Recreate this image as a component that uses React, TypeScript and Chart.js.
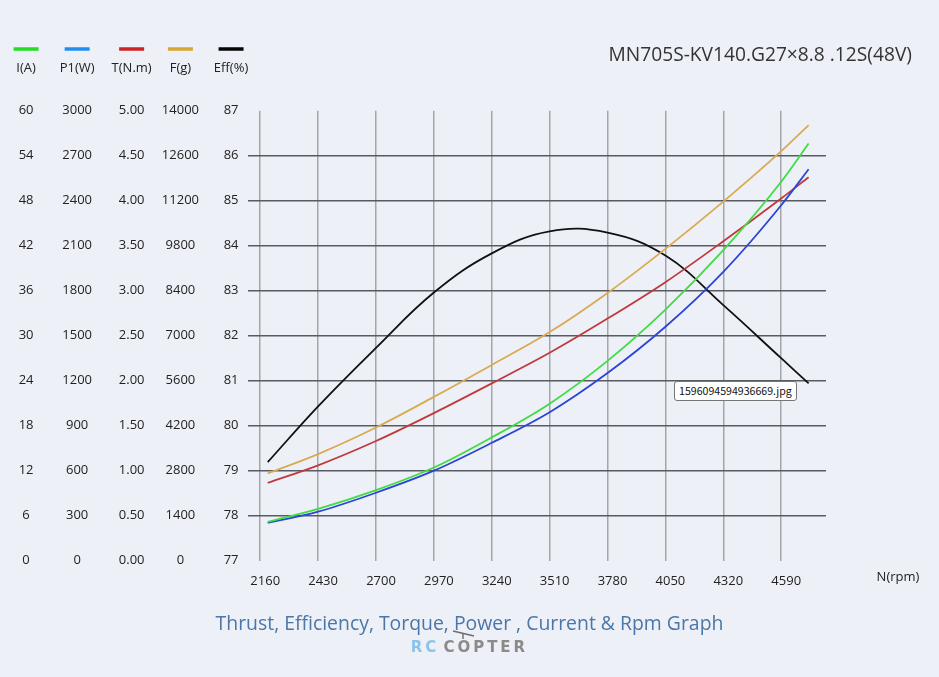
import React, { useEffect, useRef } from "react";
import { Chart, registerables } from "chart.js";

Chart.register(...registerables);

// ---- data ----
const rpm = [2195, 2430, 2700, 2970, 3240, 3510, 3780, 4050, 4320, 4590, 4718];
const currentA = [5.17, 6.9, 9.4, 12.42, 16.44, 20.94, 26.64, 33.48, 41.4, 50.52, 55.62];
const powerW = [252, 327, 453, 600, 786, 990, 1251, 1560, 1926, 2370, 2610];
const torqueNm = [0.865, 1.06, 1.33, 1.64, 1.97, 2.31, 2.69, 3.095, 3.55, 4.025, 4.26];
const thrustG = [2716, 3318, 4144, 5096, 6090, 7112, 8330, 9702, 11172, 12740, 13552];
const effPct = [79.19, 80.43, 81.73, 82.96, 83.83, 84.32, 84.29, 83.78, 82.68, 81.5, 80.94];
const rpmTicks = [2160, 2430, 2700, 2970, 3240, 3510, 3780, 4050, 4320, 4590];

const seriesNames = ["I(A)", "P1(W)", "T(N.m)", "F(g)", "Eff(%)"];
const axisIds = ["yI", "yP", "yT", "yF", "yE"];
const axisMin = [0, 0, 0, 0, 77];
const axisMax = [60, 3000, 5, 14000, 87];
const axisStep = [6, 300, 0.5, 1400, 1];
const axisDecimals = [0, 0, 2, 0, 0];
const seriesValues = [currentA, powerW, torqueNm, thrustG, effPct];
const lineColors = ["#3fdc42", "#2b45d6", "#c03a3c", "#d8ab52", "#111111"];
const legendColors = ["#22dd22", "#1e8ff0", "#cc2222", "#d8a632", "#050505"];

const chartTitle = "MN705S-KV140.G27×8.8 .12S(48V)";
const xTitle = "N(rpm)";
const footerTitle = "Thrust, Efficiency, Torque, Power , Current & Rpm Graph";

const TICK_FONT = '"Open Sans", "DejaVu Sans", sans-serif';
const TEXT_COLOR = "#222222";

// layout (pixels)
const axisWidths = [52, 52, 52, 50, 42];
const axisPadding = [18.5, 12, 11.5, 7, 9.5];

const fmt = (v: number, d: number) => (d > 0 ? v.toFixed(d) : String(Math.round(v)));

const overlayPlugin = {
  id: "overlay",
  afterDraw(chart: any) {
    const ctx = chart.ctx as CanvasRenderingContext2D;
    ctx.save();
    // legend entries above each y axis
    axisIds.forEach((id, i) => {
      const s = chart.scales[id];
      ctx.font = `13px ${TICK_FONT}`;
      const widest = ctx.measureText(fmt(axisMax[i], axisDecimals[i])).width;
      const cx = s.right - s.options.ticks.padding - widest / 2;
      ctx.strokeStyle = legendColors[i];
      ctx.lineWidth = 3.5;
      ctx.beginPath();
      ctx.moveTo(cx - 12.5, 49);
      ctx.lineTo(cx + 12.5, 49);
      ctx.stroke();
      ctx.fillStyle = TEXT_COLOR;
      ctx.textAlign = "center";
      ctx.textBaseline = "middle";
      ctx.font = `13px ${TICK_FONT}`;
      ctx.fillText(seriesNames[i], cx, 68);
    });
    // chart title (top right)
    ctx.font = `19.2px ${TICK_FONT}`;
    ctx.fillStyle = "#333333";
    ctx.textAlign = "right";
    ctx.textBaseline = "middle";
    ctx.fillText(chartTitle, 912, 56);
    // x axis title, right of the axis
    const xs = chart.scales.x;
    ctx.font = `13px ${TICK_FONT}`;
    ctx.fillStyle = TEXT_COLOR;
    ctx.textAlign = "center";
    ctx.fillText(xTitle, xs.right + 72, 577);
    ctx.restore();
  },
};

export default function App() {
  const ref = useRef<HTMLCanvasElement | null>(null);

  useEffect(() => {
    if (!ref.current) return;
    const yScales: any = {};
    axisIds.forEach((id, i) => {
      const isEff = id === "yE";
      yScales[id] = {
        type: "linear",
        position: "left",
        weight: 50 - i * 10,
        min: axisMin[i],
        max: axisMax[i],
        afterBuildTicks: (s: any) => {
          const t: any[] = [];
          for (let k = 0; k <= 10; k++) t.push({ value: axisMin[i] + axisStep[i] * k });
          s.ticks = t;
        },
        afterFit: (s: any) => {
          s.width = axisWidths[i];
        },
        ticks: {
          crossAlign: "center",
          padding: axisPadding[i],
          color: TEXT_COLOR,
          font: { family: TICK_FONT, size: 13 },
          callback: (v: any) => fmt(Number(v), axisDecimals[i]),
        },
        grid: isEff
          ? {
              display: true,
              drawTicks: false,
              lineWidth: 1.5,
              color: (c: any) =>
                c.tick && (c.tick.value === 77 || c.tick.value === 87) ? "rgba(0,0,0,0)" : "#585c62",
            }
          : { display: false, drawTicks: false },
        border: { display: false },
      };
    });

    const chart = new Chart(ref.current, {
      type: "line",
      data: {
        datasets: seriesValues.map((vals, i) => ({
          label: seriesNames[i],
          yAxisID: axisIds[i],
          data: rpm.map((r, k) => ({ x: r, y: vals[k] })),
          borderColor: lineColors[i],
          borderWidth: 1.8,
          pointRadius: 0,
          fill: false,
          cubicInterpolationMode: axisIds[i] === "yE" ? "default" : "monotone",
          tension: 0.4,
        })),
      },
      options: {
        animation: false,
        responsive: false,
        events: [],
        layout: { padding: { left: 0, right: 113, top: 110.7, bottom: 0 } },
        plugins: {
          legend: { display: false },
          tooltip: { enabled: false },
          title: { display: false },
        },
        scales: {
          x: {
            type: "linear",
            min: 2103,
            max: 4799,
            afterBuildTicks: (s: any) => {
              s.ticks = rpmTicks.map((v) => ({ value: v }));
            },
            afterFit: (s: any) => {
              s.height = 116.3;
            },
            ticks: {
              autoSkip: false,
              maxRotation: 0,
              padding: 13,
              labelOffset: 5,
              color: TEXT_COLOR,
              font: { family: TICK_FONT, size: 13 },
              callback: (v: any) => String(v),
            },
            grid: { color: "#a3a6aa", lineWidth: 1.5, drawTicks: false },
            border: { display: false },
          },
          ...yScales,
        },
      } as any,
      plugins: [overlayPlugin],
    });
    return () => chart.destroy();
  }, []);

  return (
    <div
      style={{
        position: "fixed",
        left: 0,
        top: 0,
        width: 939,
        height: 677,
        background: "#edf1f7",
        overflow: "hidden",
      }}
    >
      <canvas
        ref={ref}
        width={939}
        height={677}
        style={{ position: "absolute", left: 0, top: 0, width: 939, height: 677 }}
      />
      <div
        style={{
          position: "absolute",
          left: 0,
          top: 609,
          width: 939,
          textAlign: "center",
          fontFamily: TICK_FONT,
          fontSize: 19.4,
          lineHeight: "28px",
          color: "#4a76a8",
          whiteSpace: "nowrap",
        }}
      >
        {footerTitle}
      </div>
      <svg
        width={30}
        height={12}
        style={{ position: "absolute", left: 450, top: 628 }}
      >
        <line x1={3} y1={3} x2={24} y2={8} stroke="#6d6d6d" strokeWidth={1.6} />
        <line x1={13} y1={5} x2={13} y2={11} stroke="#6d6d6d" strokeWidth={1.4} />
      </svg>
      <div
        style={{
          position: "absolute",
          left: 0,
          top: 637,
          width: 939,
          textAlign: "center",
          fontFamily: '"DejaVu Sans", sans-serif',
          fontWeight: "bold",
          fontSize: 15,
          lineHeight: "20px",
          letterSpacing: 3,
          whiteSpace: "nowrap",
        }}
      >
        <span style={{ color: "#8cc3e8" }}>RC</span>
        <span style={{ color: "#8a8a8a", marginLeft: 4 }}>COPTER</span>
      </div>
      <div
        style={{
          position: "absolute",
          left: 674,
          top: 381,
          height: 20,
          padding: "0 4px",
          boxSizing: "border-box",
          background: "#ffffff",
          border: "1px solid #767676",
          borderRadius: 3,
          fontFamily: '"Noto Sans CJK SC", "Noto Sans", sans-serif',
          fontSize: 10.6,
          lineHeight: "18px",
          color: "#111111",
          whiteSpace: "nowrap",
        }}
      >
        1596094594936669.jpg
      </div>
    </div>
  );
}
